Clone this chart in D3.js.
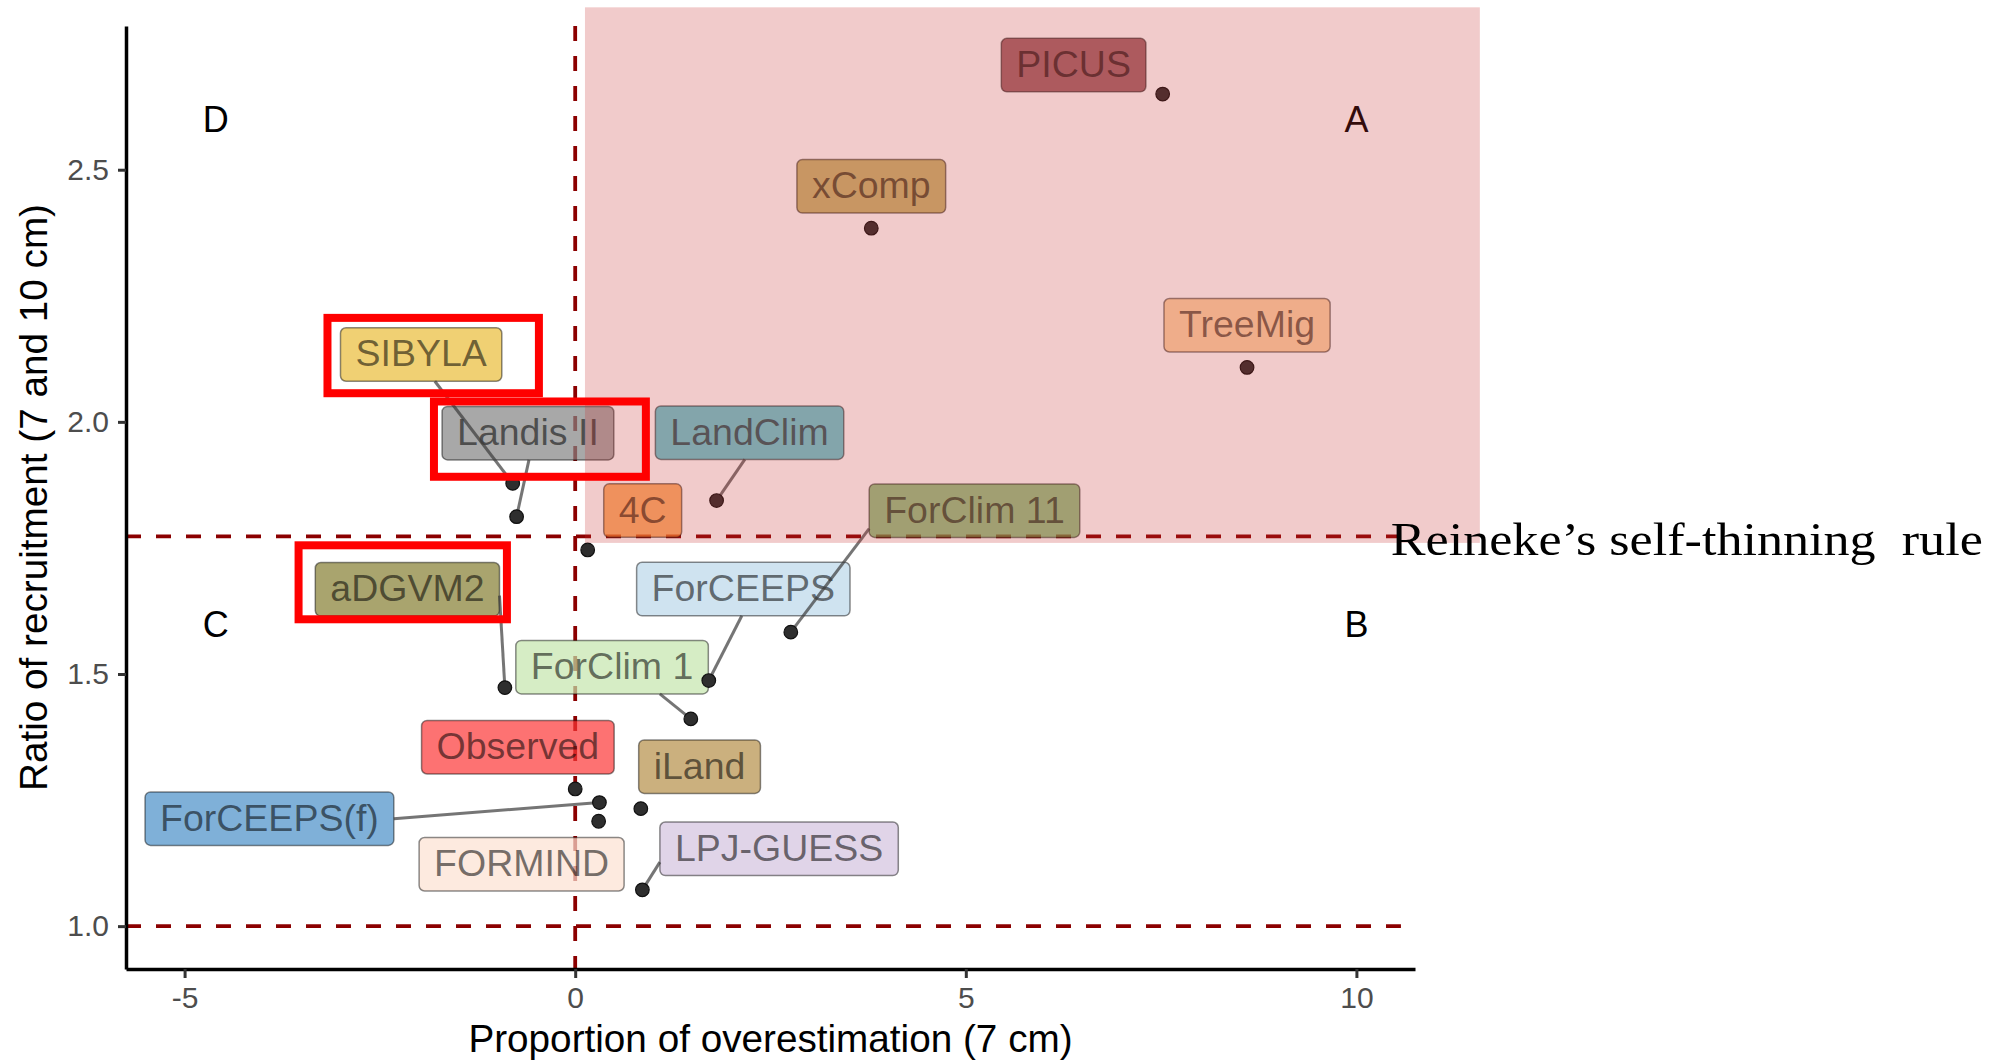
<!DOCTYPE html>
<html>
<head>
<meta charset="utf-8">
<script src="https://cdn.jsdelivr.net/npm/d3@7"></script>
<style>
  html, body { margin: 0; padding: 0; background: #ffffff; }
  svg { display: block; font-family: "Liberation Sans", Arial, Helvetica, sans-serif; }
</style>
</head>
<body>
<svg id="chart" width="2014" height="1061"></svg>
<script>
// ---- data ----------------------------------------------------------------
const models = ["PICUS", "xComp", "TreeMig", "LandClim", "4C", "ForClim 11",
                "SIBYLA", "Landis II", "aDGVM2", "ForCEEPS", "ForClim 1",
                "Observed", "iLand", "ForCEEPS(f)", "FORMIND", "LPJ-GUESS"];
// proportion of overestimation of 7 cm trees
const overestimation = [7.52, 3.79, 8.60, 1.81, 0.16, 2.76,
                        -0.80, -0.75, -0.90, 1.71, 1.48,
                        0.00, 0.84, 0.31, 0.30, 0.86];
// ratio of recruitment between 7 and 10 cm
const recruitmentRatio = [2.650, 2.384, 2.108, 1.844, 1.746, 1.583,
                          1.878, 1.812, 1.473, 1.487, 1.411,
                          1.272, 1.233, 1.245, 1.208, 1.072];
// repelled label centres (data units)
const labelX = [6.38, 3.79, 8.60, 2.232, 0.864, 5.111,
                -1.972, -0.605, -2.148, 2.152, 0.472,
                -0.734, 1.592, -3.914, -0.686, 2.610];
const labelY = [2.7075, 2.467, 2.1916, 1.9786, 1.824, 1.8239,
                2.1336, 1.9776, 1.668, 1.6685, 1.5136,
                1.3548, 1.3163, 1.2131, 1.1227, 1.1534];
const labelFill = ["#7e2a31", "#b09a3a", "#fbc685", "#2fb6c2", "#fb922e", "#68ad55",
                   "#eabc38", "#838383", "#847d31", "#bad7ea", "#c4e5ac",
                   "#fc3636", "#b58e47", "#488ec7", "#fce1d1", "#d3c2de"];
// where each connector leaves its label box (fraction of width, height); null = no connector
const connectorAnchor = [null, null, null, [0.475, 1], null, [0, 0.835],
                         [0.585, 1], [0.506, 1], [1, 0.62], [0.493, 1], [0.748, 1],
                         null, null, [1, 0.5], null, [0, 0.75]];

const xTicks = [-5, 0, 5, 10];
const yTicks = [1.0, 1.5, 2.0, 2.5];

const xDomain = [-5.75, 10.75];
const yDomain = [0.915, 2.785];

const reinekeRatio = 1.773;       // (10/7)^1.605
const unityRatio = 1.0;
const quadrantNames = ["A", "B", "C", "D"];
const quadrantX = [10, 10, -4.6, -4.6];
const quadrantY = [2.6, 1.6, 1.6, 2.6];

// shaded zone: overestimation with recruitment above the self-thinning rule
const zone = { x0: 0.125, x1: 11.58, y0: 1.76, y1: 2.822 };

// highlighted models
const highlightNames = ["SIBYLA", "Landis II", "aDGVM2"];
const highlightX0 = [-3.171, -1.808, -3.541];
const highlightX1 = [-0.4645, 0.9047, -0.874];
const highlightY0 = [2.0568, 1.8911, 1.6085];
const highlightY1 = [2.2062, 2.0404, 1.7552];

// ---- layout --------------------------------------------------------------
const svg = d3.select("#chart");
const x = d3.scaleLinear().domain(xDomain).range([126, 1415]);
const y = d3.scaleLinear().domain(yDomain).range([969, 26]);

const rows = models.map((m, i) => ({
  name: m, vx: overestimation[i], vy: recruitmentRatio[i],
  lx: labelX[i], ly: labelY[i], fill: labelFill[i], anchor: connectorAnchor[i]
}));

// reference lines
const lines = svg.append("g").attr("class", "ref-lines")
  .attr("stroke", "#8b0000").attr("stroke-width", 3.8)
  .attr("stroke-dasharray", "15 15").attr("fill", "none");
lines.append("line")
  .attr("x1", x(0)).attr("x2", x(0)).attr("y1", y.range()[1]).attr("y2", y.range()[0]);
[reinekeRatio, unityRatio].forEach(v => {
  lines.append("line")
    .attr("x1", x(xDomain[0])).attr("x2", x(10.57))
    .attr("y1", y(v)).attr("y2", y(v));
});

// label boxes
const labelFont = 37.5, padX = 15, boxH = 53.5;
const labelG = svg.append("g").attr("class", "labels");
rows.forEach(r => {
  const cx = x(r.lx), cy = y(r.ly);
  const g = labelG.append("g");
  const rect = g.append("rect");
  const t = g.append("text")
    .attr("x", cx).attr("y", cy + 12)
    .attr("text-anchor", "middle")
    .attr("font-size", labelFont)
    .attr("fill", "#000").attr("fill-opacity", 0.55)
    .text(r.name);
  const w = t.node().getComputedTextLength() + 2 * padX;
  r.box = { x0: cx - w / 2, y0: cy - boxH / 2, w: w, h: boxH };
  rect.attr("x", r.box.x0).attr("y", r.box.y0)
    .attr("width", w).attr("height", boxH)
    .attr("rx", 5.5).attr("ry", 5.5)
    .attr("fill", r.fill).attr("fill-opacity", 0.7)
    .attr("stroke", "#000").attr("stroke-opacity", 0.45).attr("stroke-width", 1.5);
  t.raise();
});

// connector segments from label box to its point
const segG = svg.append("g").attr("class", "segments");
rows.filter(r => r.anchor).forEach(r => {
  const sx = r.box.x0 + r.anchor[0] * r.box.w;
  const sy = r.box.y0 + r.anchor[1] * r.box.h;
  segG.append("line")
    .attr("x1", sx).attr("y1", sy).attr("x2", x(r.vx)).attr("y2", y(r.vy))
    .attr("stroke", "#3a3a3a").attr("stroke-opacity", 0.7).attr("stroke-width", 3);
});

// points
svg.append("g").attr("class", "points")
  .selectAll("circle").data(rows).join("circle")
  .attr("cx", d => x(d.vx)).attr("cy", d => y(d.vy)).attr("r", 6.8)
  .attr("fill", "#2e2e2e").attr("stroke", "#111").attr("stroke-width", 1.2);

// axes
const axisG = svg.append("g").attr("class", "axes");
const yAxis = axisG.append("g").attr("transform", `translate(${x(xDomain[0])},0)`)
  .call(d3.axisLeft(y).tickValues(yTicks).tickFormat(d3.format(".1f"))
    .tickSize(8).tickSizeOuter(0).tickPadding(9));
const xAxis = axisG.append("g").attr("transform", `translate(0,${y(yDomain[0])})`)
  .call(d3.axisBottom(x).tickValues(xTicks).tickFormat(d3.format("d"))
    .tickSize(9).tickSizeOuter(0).tickPadding(9));
[yAxis, xAxis].forEach(a => {
  a.attr("font-family", null);
  a.select(".domain").attr("stroke", "#000").attr("stroke-width", 3.5);
  a.selectAll(".tick line").attr("stroke", "#333").attr("stroke-width", 3);
  a.selectAll(".tick text").attr("fill", "#4d4d4d").attr("font-size", 30);
});
xAxis.selectAll(".tick text").text(d => d < 0 ? "-" + Math.abs(d) : d);

svg.append("text")
  .attr("x", (x.range()[0] + x.range()[1]) / 2).attr("y", 1052)
  .attr("text-anchor", "middle").attr("font-size", 38.7).attr("fill", "#000")
  .text("Proportion of overestimation (7 cm)");
svg.append("text")
  .attr("transform", `translate(47,${(y.range()[0] + y.range()[1]) / 2}) rotate(-90)`)
  .attr("text-anchor", "middle").attr("font-size", 38.7).attr("fill", "#000")
  .text("Ratio of recruitment (7 and 10 cm)");

// quadrant letters
quadrantNames.forEach((q, i) => {
  svg.append("text")
    .attr("x", x(quadrantX[i])).attr("y", y(quadrantY[i]) + 13)
    .attr("text-anchor", "middle").attr("font-size", 36).attr("fill", "#000")
    .text(q);
});

// translucent zone over everything
svg.append("rect")
  .attr("x", x(zone.x0)).attr("y", y(zone.y1))
  .attr("width", x(zone.x1) - x(zone.x0)).attr("height", y(zone.y0) - y(zone.y1))
  .attr("fill", "rgb(199,47,47)").attr("fill-opacity", 0.25);

// highlight frames
highlightNames.forEach((n, i) => {
  svg.append("rect")
    .attr("x", x(highlightX0[i])).attr("y", y(highlightY1[i]))
    .attr("width", x(highlightX1[i]) - x(highlightX0[i]))
    .attr("height", y(highlightY0[i]) - y(highlightY1[i]))
    .attr("fill", "none").attr("stroke", "#ff0000").attr("stroke-width", 8);
});

// self-thinning annotation
svg.append("text")
  .attr("x", x(10.44)).attr("y", y(reinekeRatio) + 19)
  .style("font-family", "'Liberation Serif', 'Times New Roman', serif")
  .attr("font-size", 47).attr("fill", "#000")
  .attr("textLength", 592).attr("lengthAdjust", "spacingAndGlyphs")
  .style("white-space", "pre")
  .text("Reineke\u2019s self-thinning  rule");
</script>
</body>
</html>
